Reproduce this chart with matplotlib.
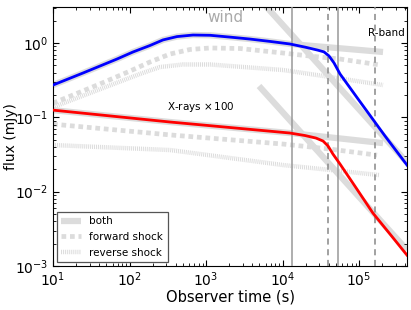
import matplotlib
matplotlib.use("Agg")
import matplotlib.pyplot as plt
from matplotlib.lines import Line2D

# ---------------- data ----------------
# optical (R-band) solid total
opt_t = [10, 24.7, 68.7, 111, 185, 274, 418, 676, 1130, 2060, 3760, 6870, 1.25e4,
         1.97e4, 2.91e4, 3.48e4, 4.05e4, 4.71e4, 5.65e4, 9.7e4, 2.19e5, 4.24e5]
opt_f = [0.272, 0.395, 0.609, 0.757, 0.925, 1.10, 1.22, 1.28, 1.27, 1.20, 1.13, 1.05, 0.97,
         0.88, 0.80, 0.76, 0.67, 0.54, 0.383, 0.177, 0.056, 0.0228]
# optical "both" (wide grey underlay, continuing past the break)
opt_both_t = [10, 24.7, 68.7, 111, 185, 274, 418, 676, 1130, 2060, 3760, 6870, 1.25e4, 2.06e5]
opt_both_f = [0.272, 0.395, 0.609, 0.757, 0.925, 1.10, 1.22, 1.28, 1.27, 1.20, 1.13, 1.05, 0.97, 0.757]
# optical forward shock
opt_fw_t = [10, 41, 102, 185, 338, 617, 1130, 2780, 1.02e4, 2.26e4, 5.6e4, 1.9e5]
opt_fw_f = [0.155, 0.281, 0.42, 0.555, 0.71, 0.818, 0.857, 0.843, 0.733, 0.668, 0.609, 0.506]
# optical reverse shock
opt_rv_t = [10, 49, 137, 250, 500, 1130, 1.02e4, 4.17e4, 2.06e5]
opt_rv_f = [0.137, 0.256, 0.383, 0.475, 0.514, 0.514, 0.433, 0.349, 0.272]
# optical steep asymptote
opt_steep_t = [5.0e3, 4.2e5]
opt_steep_f = [3.9, 0.025]

# X-ray (x100) solid total
xr_t = [10, 339, 1.25e4, 1.97e4, 2.74e4, 3.39e4, 3.94e4, 4.57e4, 5.65e4, 9.4e4, 1.52e5, 2.54e5, 4.24e5]
xr_f = [0.125, 0.0865, 0.0615, 0.0569, 0.0526, 0.048, 0.0411, 0.032, 0.0235, 0.0108, 0.00515,
        0.00269, 0.0014]
# X-ray "both"
xr_both_t = [10, 339, 1.25e4, 2.06e5]
xr_both_f = [0.125, 0.0865, 0.0615, 0.045]
# X-ray forward shock
xr_fw_t = [10, 340, 1.02e4, 4.17e4, 1.72e5]
xr_fw_f = [0.081, 0.058, 0.0437, 0.0374, 0.031]
# X-ray reverse shock
xr_rv_t = [10, 340, 1.02e4, 1.86e5]
xr_rv_f = [0.0424, 0.0363, 0.0228, 0.0167]
# X-ray steep asymptote
xr_steep_t = [4.93e3, 4.24e5]
xr_steep_f = [0.264, 0.00164]

# vertical marker times
vsolid = [1.33e4, 5.3e4]
vdashed = [3.9e4, 1.62e5]

# ---------------- plot ----------------
grey = "#dcdcdc"
fig = plt.figure(figsize=(4.11, 3.10), dpi=100)
ax = fig.add_axes([53/411, 1-266/310, (407-53)/411, (266-7)/310])

both_kw = dict(color=grey, lw=4.5, solid_capstyle="butt", solid_joinstyle="round", zorder=1)
fw_kw = dict(color=grey, lw=3.4, linestyle=(0, (1.0, 0.8)), dash_capstyle="butt", zorder=1)
rv_kw = dict(color=grey, lw=3.2, linestyle=(0, (0.22, 0.22)), dash_capstyle="butt", zorder=1)

for t, f in [(opt_both_t, opt_both_f), (xr_both_t, xr_both_f),
             (opt_steep_t, opt_steep_f), (xr_steep_t, xr_steep_f)]:
    ax.plot(t, f, **both_kw)
for t, f in [(opt_fw_t, opt_fw_f), (xr_fw_t, xr_fw_f)]:
    ax.plot(t, f, **fw_kw)
for t, f in [(opt_rv_t, opt_rv_f), (xr_rv_t, xr_rv_f)]:
    ax.plot(t, f, **rv_kw)

ax.plot(opt_t, opt_f, color="#0000ff", lw=2.0, zorder=4, solid_joinstyle="round")
ax.plot(xr_t, xr_f, color="#ff0000", lw=2.0, zorder=4, solid_joinstyle="round")

for v in vsolid:
    ax.axvline(v, color="#999999", lw=1.1, zorder=3)
for v in vdashed:
    ax.axvline(v, color="#888888", lw=1.1, linestyle=(0, (4, 3)), zorder=3)

ax.set_xscale("log")
ax.set_yscale("log")
ax.set_xlim(10, 4.24e5)
ax.set_ylim(1e-3, 3.05)

ax.tick_params(which="both", direction="in", top=True, right=True, labelsize=10)
ax.tick_params(which="major", length=4.5)
ax.tick_params(which="minor", length=2.2)

ax.set_xlabel("Observer time (s)", fontsize=10.5, labelpad=0)
ax.set_ylabel("flux (mJy)", fontsize=10)
ax.yaxis.set_label_coords(-0.099, 0.5)

ax.text(1.77e3, 2.17, "wind", color="#aaaaaa", fontsize=11, ha="center", va="center")
ax.text(2.25e5, 1.36, "R-band", color="black", fontsize=7.5, ha="center", va="center")
ax.text(861, 0.138, r"X-rays $\times\,100$", color="black", fontsize=7.5, ha="center", va="center")

handles = [Line2D([], [], **{k: v for k, v in both_kw.items() if k != "zorder"}),
           Line2D([], [], **{k: v for k, v in fw_kw.items() if k != "zorder"}),
           Line2D([], [], **{k: v for k, v in rv_kw.items() if k != "zorder"})]
leg = ax.legend(handles, ["both", "forward shock", "reverse shock"], loc="lower left",
                fontsize=7.5, handlelength=1.9, labelspacing=0.55, borderpad=0.45,
                fancybox=False, framealpha=1, borderaxespad=0.35)
leg.get_frame().set_edgecolor("#555555")
leg.get_frame().set_linewidth(0.9)

fig.savefig("out.png", dpi=100)
